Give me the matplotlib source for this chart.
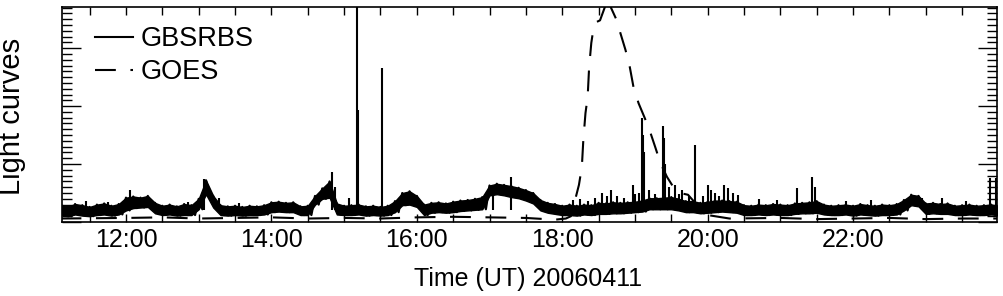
import numpy as np
import matplotlib
matplotlib.use("Agg")
import matplotlib.pyplot as plt
from matplotlib.ticker import MultipleLocator, FuncFormatter

plt.rcParams['font.family'] = ['Liberation Sans', 'DejaVu Sans']

# GBSRBS band (upper / lower envelope), sampled every 6 min from 11.1 h to 24.0 h
gb_time = np.arange(111, 241) / 10.0
gb_hi = [0.30, 0.27, 0.31, 0.29, 0.26, 0.30, 0.32, 0.28, 0.31, 0.42,
         0.44, 0.42, 0.45, 0.33, 0.28, 0.30, 0.27, 0.31, 0.29, 0.40,
         0.72, 0.45, 0.29, 0.27, 0.28, 0.26, 0.28, 0.27, 0.29, 0.34,
         0.35, 0.33, 0.34, 0.27, 0.28, 0.45, 0.58, 0.70, 0.32, 0.28,
         0.29, 0.30, 0.27, 0.28, 0.26, 0.28, 0.36, 0.50, 0.53, 0.45,
         0.30, 0.33, 0.34, 0.32, 0.35, 0.37, 0.38, 0.40, 0.43, 0.63,
         0.66, 0.64, 0.62, 0.59, 0.55, 0.50, 0.38, 0.33, 0.31, 0.28,
         0.30, 0.28, 0.30, 0.29, 0.33, 0.32, 0.34, 0.33, 0.34, 0.35,
         0.37, 0.41, 0.41, 0.42, 0.43, 0.40, 0.36, 0.36, 0.33, 0.35,
         0.37, 0.37, 0.36, 0.35, 0.29, 0.28, 0.30, 0.29, 0.31, 0.30,
         0.29, 0.32, 0.33, 0.34, 0.36, 0.30, 0.28, 0.29, 0.30, 0.28,
         0.31, 0.29, 0.28, 0.30, 0.29, 0.31, 0.38, 0.47, 0.45, 0.32,
         0.33, 0.31, 0.32, 0.28, 0.29, 0.30, 0.28, 0.29, 0.30, 0.28]
gb_lo = [0.12, 0.10, 0.13, 0.11, 0.10, 0.12, 0.13, 0.11, 0.13, 0.20,
         0.24, 0.25, 0.26, 0.15, 0.12, 0.13, 0.11, 0.12, 0.12, 0.22,
         0.48, 0.25, 0.12, 0.11, 0.12, 0.11, 0.12, 0.12, 0.13, 0.17,
         0.18, 0.17, 0.17, 0.12, 0.12, 0.30, 0.40, 0.42, 0.13, 0.12,
         0.12, 0.13, 0.11, 0.12, 0.11, 0.12, 0.17, 0.29, 0.30, 0.26,
         0.12, 0.16, 0.17, 0.16, 0.17, 0.19, 0.20, 0.21, 0.22, 0.46,
         0.48, 0.46, 0.43, 0.41, 0.37, 0.32, 0.20, 0.16, 0.14, 0.12,
         0.12, 0.11, 0.13, 0.12, 0.14, 0.14, 0.15, 0.15, 0.16, 0.17,
         0.18, 0.22, 0.22, 0.22, 0.22, 0.20, 0.17, 0.17, 0.15, 0.16,
         0.17, 0.18, 0.17, 0.16, 0.12, 0.12, 0.13, 0.12, 0.13, 0.12,
         0.12, 0.14, 0.15, 0.15, 0.16, 0.13, 0.12, 0.12, 0.13, 0.11,
         0.13, 0.12, 0.11, 0.12, 0.12, 0.13, 0.20, 0.29, 0.27, 0.14,
         0.15, 0.14, 0.14, 0.12, 0.12, 0.13, 0.12, 0.12, 0.13, 0.12]

# GBSRBS spikes (time in hours, peak value)
spike_time = [11.45, 11.75, 12.06, 12.85, 13.07, 13.28, 13.55, 14.83, 14.88,
              15.07, 15.18, 15.19, 15.52, 17.05, 17.30, 18.15, 18.25, 18.35,
              18.45, 18.55, 18.62, 18.67, 18.75, 18.85, 18.98, 19.00, 19.05,
              19.10, 19.11, 19.12, 19.20, 19.27, 19.39, 19.40, 19.42, 19.47,
              19.55, 19.60, 19.65, 19.75, 19.83, 19.93, 20.00, 20.05, 20.10,
              20.15, 20.22, 20.28, 20.35, 20.42, 20.70, 20.95, 21.23, 21.44,
              21.47, 21.90, 22.25, 22.95, 23.22, 23.55, 23.88, 23.97]
spike_val = [0.36, 0.35, 0.55, 0.35, 0.74, 0.41, 0.33, 0.86, 0.60,
             0.41, 3.90, 1.93, 2.66, 0.60, 0.78, 0.38, 0.40, 0.36,
             0.42, 0.50, 0.45, 0.55, 0.45, 0.42, 0.64, 0.48, 0.50,
             1.79, 1.50, 1.20, 0.55, 0.48, 1.66, 1.45, 1.00, 0.60,
             0.64, 0.48, 0.55, 0.45, 1.33, 0.45, 0.64, 0.55, 0.50,
             0.45, 0.64, 0.59, 0.50, 0.47, 0.40, 0.38, 0.59, 0.78,
             0.60, 0.37, 0.38, 0.42, 0.41, 0.36, 0.76, 0.76]

# GOES X-ray flux (scaled)
goes_time = [11.10, 12.00, 12.50, 13.00, 13.50, 14.00, 14.50, 15.00, 15.50,
             16.00, 16.50, 17.00, 17.50, 17.90, 18.05, 18.12, 18.23, 18.27,
             18.29, 18.32, 18.35, 18.37, 18.40, 18.43, 18.47, 18.52, 18.59,
             18.63, 18.67, 18.75, 18.80, 18.87, 18.93, 18.98, 19.05, 19.13,
             19.20, 19.28, 19.35, 19.44, 19.53, 19.62, 19.73, 19.85, 20.00,
             20.30, 21.00, 21.50, 22.00, 22.50, 23.00, 23.50, 24.00]
goes_val = [0.06, 0.07, 0.08, 0.06, 0.07, 0.08, 0.06, 0.07, 0.06,
            0.08, 0.09, 0.08, 0.07, 0.04, 0.06, 0.10, 0.64, 0.95,
            1.41, 1.88, 2.16, 2.67, 3.09, 3.34, 3.45, 3.48, 3.72,
            3.85, 3.70, 3.48, 3.26, 2.97, 2.67, 2.33, 2.05, 1.81,
            1.59, 1.29, 1.02, 0.78, 0.60, 0.50, 0.47, 0.30, 0.12,
            0.06, 0.07, 0.05, 0.06, 0.07, 0.05, 0.06, 0.06]

fig = plt.figure(figsize=(10.04, 2.96), dpi=100)
ax = fig.add_axes([62/1004, 1-222/296, 935/1004, 215/296])

# noisy GBSRBS trace: solid band plus a zigzag between the two envelopes
ax.fill_between(gb_time, gb_lo, gb_hi, color='black', lw=1.0)
zz_t = np.column_stack([gb_time, gb_time + 0.05]).ravel()
zz_v = np.column_stack([gb_hi, gb_lo]).ravel()
ax.plot(zz_t, zz_v, color='black', lw=1.6)
ax.vlines(spike_time, 0.2, spike_val, color='black', lw=1.5)
line_gb, = ax.plot([], [], color='black', lw=1.5)
line_goes, = ax.plot(goes_time, goes_val, color='black', lw=1.5,
                     linestyle=(0, (10, 7)))

ax.set_xlim(11.12, 23.98)
ax.set_ylim(0, 3.71)

ax.xaxis.set_major_locator(MultipleLocator(2))
ax.xaxis.set_minor_locator(MultipleLocator(0.5))
ax.xaxis.set_major_formatter(FuncFormatter(lambda v, p: '%02d:00' % int(round(v))))
ax.yaxis.set_major_locator(MultipleLocator(1))
ax.yaxis.set_minor_locator(MultipleLocator(0.1))

ax.tick_params(axis='x', which='both', direction='in', top=True, bottom=True,
               length=6, width=1.0, labelsize=18, pad=4)
ax.tick_params(axis='y', which='major', direction='in', left=True, right=True,
               length=14, width=1.0)
ax.tick_params(axis='y', which='minor', direction='in', left=True, right=True,
               length=7, width=1.0)
ax.tick_params(axis='y', labelleft=False)
for s in ax.spines.values():
    s.set_linewidth(1.2)

ax.set_xlabel('Time (UT) 20060411', fontsize=18)
ax.xaxis.set_label_coords(0.498, -0.21)
ax.set_ylabel('Light curves', fontsize=21)
ax.yaxis.set_label_coords(-0.038, 0.49)

ax.legend([line_gb, line_goes], ['GBSRBS', 'GOES'], loc='upper left',
          bbox_to_anchor=(0.035, 0.91), frameon=False, fontsize=19.5,
          handlelength=1.4, handletextpad=0.3, labelspacing=0.25,
          borderpad=0, borderaxespad=0)

fig.savefig('out.png', dpi=100)
